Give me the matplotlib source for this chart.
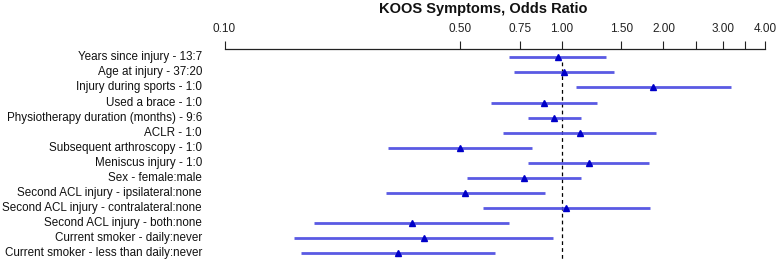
import numpy as np
import matplotlib
matplotlib.use('Agg')
import matplotlib.pyplot as plt
from matplotlib.ticker import FixedLocator, NullLocator

plt.rcParams['font.family'] = ['Liberation Sans', 'DejaVu Sans']

labels = [
    'Years since injury - 13:7',
    'Age at injury - 37:20',
    'Injury during sports - 1:0',
    'Used a brace - 1:0',
    'Physiotherapy duration (months) - 9:6',
    'ACLR - 1:0',
    'Subsequent arthroscopy - 1:0',
    'Meniscus injury - 1:0',
    'Sex - female:male',
    'Second ACL injury - ipsilateral:none',
    'Second ACL injury - contralateral:none',
    'Second ACL injury - both:none',
    'Current smoker - daily:never',
    'Current smoker - less than daily:never',
]
oddsRatio = [0.971, 1.012, 1.868, 0.883, 0.949, 1.13, 0.499, 1.202, 0.774, 0.516, 1.032, 0.359, 0.389, 0.326]
lower = [0.698, 0.72, 1.098, 0.616, 0.791, 0.67, 0.306, 0.795, 0.523, 0.301, 0.585, 0.184, 0.161, 0.169]
upper = [1.352, 1.425, 3.18, 1.269, 1.138, 1.90, 0.813, 1.817, 1.14, 0.889, 1.83, 0.697, 0.941, 0.634]

tickValues = [0.10, 0.50, 0.75, 1.00, 1.50, 2.00, 2.50, 3.00, 3.50, 4.00]
tickLabels = ['0.10', '0.50', '0.75', '1.00', '1.50', '2.00', '', '3.00', '', '4.00']

W, H = 777, 263
fig = plt.figure(figsize=(W / 100, H / 100), dpi=100)

# axes placed in pixels: top spine at y=49, x from 0.1 (224.5px) to 4.0 (765px)
ax = fig.add_axes([224.5 / W, 0, (765 - 224.5) / W, (H - 49) / H])

rows = np.arange(len(labels))
ax.hlines(rows, lower, upper, color='#4848e0', alpha=0.9, linewidth=2.0, zorder=2)
ax.plot(oddsRatio, rows, linestyle='none', marker='^', markersize=5,
        color='#0000c8', zorder=3)
ax.vlines(1.0, 0.3, len(labels) - 0.6, color='black', linestyle=(0, (3, 2.5)),
          linewidth=0.9, zorder=1)

ax.set_xscale('log')
ax.set_xlim(0.1, 4.0)
ax.set_ylim(13.64, -0.55)

ax.xaxis.set_major_locator(FixedLocator(tickValues))
ax.set_xticklabels(tickLabels)
ax.xaxis.set_minor_locator(NullLocator())
ax.xaxis.tick_top()
ax.tick_params(axis='x', direction='out', length=5.5, width=0.8, pad=4.5,
               labelsize=8.5, colors='#222222')
ax.set_yticks([])

for side in ['left', 'right', 'bottom']:
    ax.spines[side].set_visible(False)
ax.spines['top'].set_linewidth(0.9)
ax.spines['top'].set_color('#222222')

# row labels, right aligned left of the axis (right edge ~202px)
for i, lab in enumerate(labels):
    ax.text(-(224.5 - 202) / (765 - 224.5), i, lab, transform=ax.get_yaxis_transform(),
            ha='right', va='center', fontsize=8.4, color='#111111')

fig.text(483.5 / W, 1 - 9.5 / H, 'KOOS Symptoms, Odds Ratio', ha='center', va='center',
         fontsize=10.5, fontweight='bold', color='#111111')

fig.savefig('out.png', dpi=100)
